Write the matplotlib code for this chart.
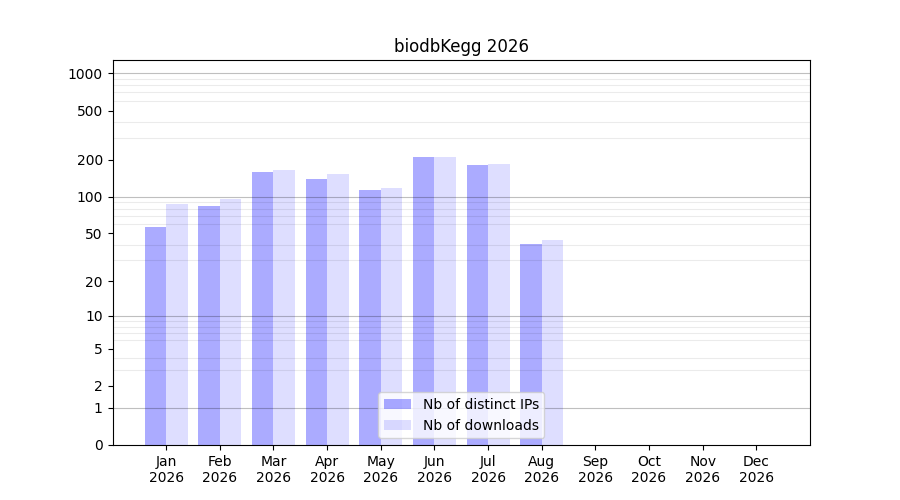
import numpy as np
import matplotlib
matplotlib.use("Agg")
import matplotlib.pyplot as plt

# monthly stats
months = ["Jan", "Feb", "Mar", "Apr", "May", "Jun", "Jul", "Aug", "Sep", "Oct", "Nov", "Dec"]
year = "2026"
nb_ips = [56, 84, 159, 139, 113, 210, 181, 41]
nb_downloads = [87, 95, 165, 153, 118, 211, 184, 44]
ytick_values = [0, 1, 2, 5, 10, 20, 50, 100, 200, 500, 1000]


def fwd(y):
    return np.log10(1 + np.clip(y, 0, None))


def inv(y):
    return 10 ** y - 1


fig, ax = plt.subplots(figsize=(9, 5), dpi=100)
ax.set_yscale("function", functions=(fwd, inv))

x = np.arange(1, len(nb_ips) + 1)
ax.bar(x - 0.2, nb_ips, width=0.4, color="blue", alpha=0.33, linewidth=0,
       label="Nb of distinct IPs")
ax.bar(x + 0.2, nb_downloads, width=0.4, color="blue", alpha=0.13, linewidth=0,
       label="Nb of downloads")

# grid on top of the bars, semi transparent: dark at decades, light in between
minor = [m * 10 ** k for k in range(0, 3) for m in range(2, 10)]
ax.set_yticks(minor, minor=True)
ax.tick_params(axis="y", which="minor", length=0)
ax.grid(True, which="minor", axis="y", color="black", alpha=0.08, linewidth=0.8, zorder=3)
for d in [1, 10, 100, 1000]:
    ax.axhline(d, color="black", alpha=0.25, linewidth=0.8, zorder=3)

ax.set_yticks(ytick_values)
ax.set_yticklabels([str(v) for v in ytick_values])
ax.set_ylim(0, 1280)

ax.set_xticks(np.arange(1, 13))
ax.set_xticklabels([f"{m}\n{year}" for m in months])
ax.set_xlim(0, 13)

ax.set_title("biodbKegg 2026")
ax.legend(loc="lower center")

fig.savefig("out.png")
